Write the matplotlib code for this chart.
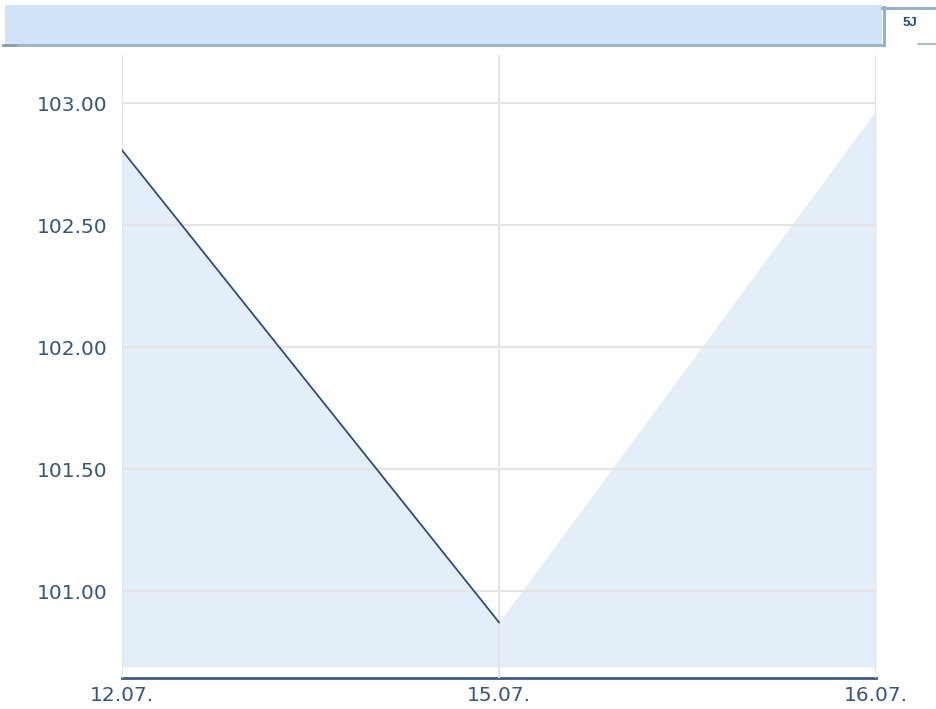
import matplotlib
matplotlib.use("Agg")
import matplotlib.pyplot as plt
from matplotlib.patches import Rectangle
from matplotlib.lines import Line2D

# data
dates = ["12.07.", "15.07.", "16.07."]
prices = [102.807, 100.873, 102.97]
line_points = 2          # the drawn line stops at 15.07., the area goes on
yticks = [101.0, 101.5, 102.0, 102.5, 103.0]
period_tab = "5J"

W, H = 936, 709
txt = "#35577f"
border = "#98b0c8"

fig = plt.figure(figsize=(W / 100, H / 100), dpi=100)

def px(x0, y0, x1, y1):
    # pixel box (top-left origin) -> figure fractions
    return x0 / W, 1 - y1 / H, (x1 - x0) / W, (y1 - y0) / H

def hline(x0, x1, y, **kw):
    fig.add_artist(Line2D([x0 / W, x1 / W], [1 - y / H] * 2,
                          transform=fig.transFigure, **kw))

def vline(x, y0, y1, **kw):
    fig.add_artist(Line2D([x / W] * 2, [1 - y0 / H, 1 - y1 / H],
                          transform=fig.transFigure, **kw))

# banner across the top
bx, by, bw, bh = px(5, 5, 882, 44)
fig.add_artist(Rectangle((bx, by), bw, bh, transform=fig.transFigure,
                         facecolor="#cfe4f7", edgecolor="none"))
hline(5, 884, 44.5, color=border, lw=2)
# tab outline
vline(883.5, 7, 45, color=border, lw=2.2)
hline(882, 936, 8, color=border, lw=2.2)
hline(918, 936, 44, color=border, lw=1.2)
hline(3, 15, 45, color="#8a9cb0", lw=2)
fig.text(909.5 / W, 1 - 22.5 / H, period_tab, ha="center", va="center",
         fontsize=9.5, fontweight="bold", color="#1f4a7a",
         family="Liberation Sans")

# plot area
ax = fig.add_axes(px(122, 55, 876, 678))
x = list(range(len(dates)))
ax.set_xlim(0, len(dates) - 1)
ax.set_ylim(100.645, 103.197)

ax.fill_between(x, prices, 100.69, color="#e3eef9", lw=0, zorder=1)
ax.plot(x[:line_points], prices[:line_points], color="#2e4e74", lw=1.3, zorder=3)

ax.set_yticks(yticks)
ax.set_yticklabels([f"{v:.2f}" for v in yticks])
ax.set_xticks(x)
ax.set_xticklabels(dates)

ax.grid(True, color="#e4e4e4", lw=1.5, zorder=2)
ax.set_axisbelow(False)
for s in ["top", "right", "left"]:
    ax.spines[s].set_visible(False)
ax.spines["bottom"].set_color("#3b5c84")
ax.spines["bottom"].set_linewidth(2)

ax.tick_params(axis="both", length=0, colors=txt, labelsize=14.5)
ax.tick_params(axis="y", pad=10.5)
ax.tick_params(axis="x", pad=6)
for lab in ax.get_yticklabels() + ax.get_xticklabels():
    lab.set_family("DejaVu Sans")

fig.savefig("out.png", dpi=100)
